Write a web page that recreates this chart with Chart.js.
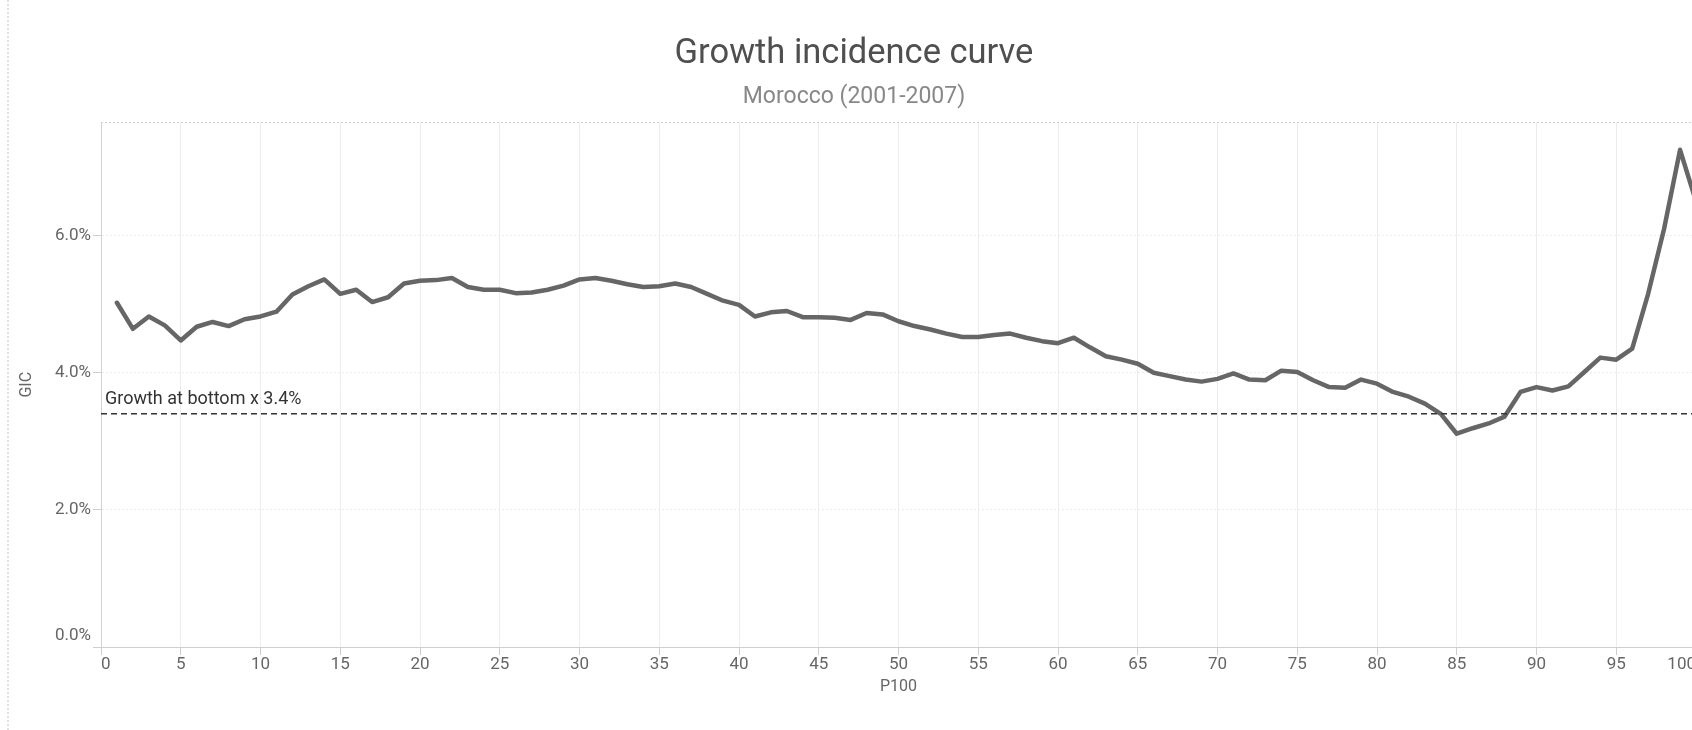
<!DOCTYPE html>
<html>
<head>
<meta charset="utf-8">
<script src="https://cdn.jsdelivr.net/npm/chart.js@4/dist/chart.umd.min.js"></script>
<style>
  html, body { margin: 0; padding: 0; background: #fff; overflow: hidden; width: 1692px; height: 730px; }
  #wrap { position: absolute; left: 0; top: 0; width: 1708px; height: 730px; }
  #wrap canvas { display: block; }
  #edge { position: absolute; left: 7px; top: 0; width: 0; height: 730px; border-left: 2px dotted #e2e2e2; }
</style>
</head>
<body>
<div id="wrap"><canvas id="c" width="1708" height="730"></canvas></div>
<div id="edge"></div>
<script>
// ---- data ----
const titleText = 'Growth incidence curve';
const subtitleText = 'Morocco (2001-2007)';
const xAxisTitle = 'P100';
const yAxisTitle = 'GIC';
const refLabel = 'Growth at bottom x 3.4%';
const growthAtBottom = 3.4;

const percentiles = [
  1,2,3,4,5,6,7,8,9,10,11,12,13,14,15,16,17,18,19,20,
  21,22,23,24,25,26,27,28,29,30,31,32,33,34,35,36,37,38,39,40,
  41,42,43,44,45,46,47,48,49,50,51,52,53,54,55,56,57,58,59,60,
  61,62,63,64,65,66,67,68,69,70,71,72,73,74,75,76,77,78,79,80,
  81,82,83,84,85,86,87,88,89,90,91,92,93,94,95,96,97,98,99,100
];
const gic = [
  5.02,4.64,4.82,4.69,4.47,4.67,4.74,4.68,4.78,4.82,
  4.89,5.14,5.26,5.36,5.15,5.21,5.03,5.10,5.30,5.34,
  5.35,5.38,5.25,5.21,5.21,5.16,5.17,5.21,5.27,5.36,
  5.38,5.34,5.29,5.25,5.26,5.30,5.25,5.15,5.05,4.99,
  4.82,4.88,4.90,4.81,4.81,4.80,4.77,4.87,4.85,4.75,
  4.68,4.63,4.57,4.52,4.52,4.55,4.57,4.51,4.46,4.43,
  4.51,4.37,4.24,4.19,4.13,4.00,3.95,3.90,3.87,3.91,
  3.99,3.90,3.89,4.03,4.01,3.89,3.79,3.78,3.90,3.84,
  3.72,3.65,3.55,3.40,3.11,3.19,3.26,3.36,3.72,3.79,
  3.74,3.80,4.01,4.22,4.19,4.35,5.15,6.10,7.25,6.50
];
const xTickValues = [0,5,10,15,20,25,30,35,40,45,50,55,60,65,70,75,80,85,90,95,100];
const yTickValues = [0,2,4,6];

// ---- chart ----
const FONT = 'Roboto';
const fmtPct = v => v.toFixed(1) + '%';

const decor = {
  id: 'decor',
  beforeDatasetsDraw(chart) {
    const { ctx, chartArea: a } = chart;
    ctx.save();
    ctx.strokeStyle = '#cfcfcf';
    ctx.lineWidth = 1;
    ctx.setLineDash([2, 2]);
    ctx.beginPath();
    ctx.moveTo(a.left, Math.round(a.top) + 0.5);
    ctx.lineTo(a.right, Math.round(a.top) + 0.5);
    ctx.stroke();
    ctx.restore();
  },
  afterDatasetsDraw(chart) {
    const { ctx } = chart;
    const x = chart.scales.x.getPixelForValue(0) + 4;
    const y = chart.scales.y.getPixelForValue(growthAtBottom) - 5;
    ctx.save();
    ctx.font = '18px ' + FONT;
    ctx.fillStyle = '#333';
    ctx.textBaseline = 'bottom';
    ctx.textAlign = 'left';
    ctx.fillText(refLabel, x, y);
    ctx.restore();
  }
};

new Chart(document.getElementById('c'), {
  type: 'line',
  data: {
    datasets: [
      {
        data: [{ x: 0, y: growthAtBottom }, { x: 100, y: growthAtBottom }],
        borderColor: '#333',
        borderWidth: 1.5,
        borderDash: [6, 4],
        pointRadius: 0,
        order: 1
      },
      {
        data: percentiles.map((p, i) => ({ x: p, y: gic[i] })),
        borderColor: '#666',
        borderWidth: 4.5,
        pointRadius: 0,
        tension: 0,
        borderJoinStyle: 'round',
        borderCapStyle: 'round',
        order: 2
      }
    ]
  },
  options: {
    responsive: false,
    devicePixelRatio: 1,
    animation: false,
    events: [],
    layout: { padding: { left: 12, right: 12, top: 0, bottom: 0 } },
    plugins: {
      legend: { display: false },
      tooltip: { enabled: false },
      title: {
        display: true,
        text: titleText,
        color: '#4f4f4f',
        font: { family: FONT, size: 34.5, weight: 'normal', lineHeight: 1.2 },
        padding: { top: 33.8, bottom: 0 }
      },
      subtitle: {
        display: true,
        text: subtitleText,
        color: '#888',
        font: { family: FONT, size: 23, weight: 'normal', lineHeight: 1.2 },
        padding: { top: 8.4, bottom: 11.2 }
      }
    },
    scales: {
      x: {
        type: 'linear',
        min: 0,
        max: 100,
        afterBuildTicks: s => { s.ticks = xTickValues.map(v => ({ value: v })); },
        afterFit: s => { s.height = 83; },
        ticks: {
          align: 'inner',
          autoSkip: false,
          maxRotation: 0,
          padding: 0,
          color: '#666',
          font: { family: FONT, size: 17 }
        },
        grid: { color: '#ececec', tickColor: '#cfcfcf', tickLength: 8, lineWidth: 1 },
        border: { color: '#cfcfcf', width: 1 },
        title: {
          display: true,
          text: xAxisTitle,
          color: '#666',
          font: { family: FONT, size: 16 },
          padding: { top: 0, bottom: 33 }
        }
      },
      y: {
        type: 'linear',
        min: 0,
        max: 7.65,
        afterBuildTicks: s => { s.ticks = yTickValues.map(v => ({ value: v })); },
        afterFit: s => { s.width = 89; },
        ticks: {
          padding: 2,
          color: '#666',
          font: { family: FONT, size: 17, lineHeight: '23px' },
          callback: v => (v === 0 ? [fmtPct(v), ''] : fmtPct(v))
        },
        grid: { color: '#ececec', tickColor: '#cfcfcf', tickLength: 8, lineWidth: 1 },
        border: { color: '#d2d2d2', width: 1, dash: [2, 2] },
        title: {
          display: true,
          text: yAxisTitle,
          color: '#666',
          font: { family: FONT, size: 16 },
          padding: { top: 5.4, bottom: 0 }
        }
      }
    }
  },
  plugins: [decor]
});
</script>
</body>
</html>
